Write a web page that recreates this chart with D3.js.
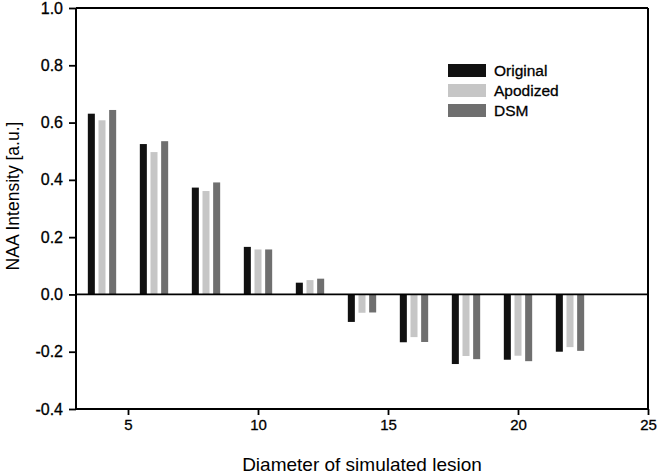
<!DOCTYPE html>
<html>
<head>
<meta charset="utf-8">
<script src="https://cdn.jsdelivr.net/npm/d3@7/dist/d3.min.js"></script>
<style>
  html, body { margin: 0; padding: 0; background: #fff; }
  svg { display: block; font-family: "Liberation Sans", Arial, sans-serif; }
  text { fill: #000; }
  .heavy { stroke: #000; stroke-width: 0.3px; }
</style>
</head>
<body>
<svg id="chart" width="659" height="476"></svg>
<script>
const diameters = [4, 6, 8, 10, 12, 14, 16, 18, 20, 22];
const seriesNames = ["Original", "Apodized", "DSM"];
const original = [0.631, 0.525, 0.373, 0.166, 0.041, -0.096, -0.167, -0.243, -0.228, -0.200];
const apodized = [0.608, 0.497, 0.361, 0.157, 0.050, -0.064, -0.149, -0.215, -0.214, -0.184];
const dsm      = [0.644, 0.535, 0.391, 0.157, 0.055, -0.063, -0.166, -0.226, -0.233, -0.197];
const xTicks = [5, 10, 15, 20, 25];
const yTicks = [-0.4, -0.2, 0.0, 0.2, 0.4, 0.6, 0.8, 1.0];
const colors = ["#111111", "#c6c6c6", "#6f6f6f"];

const svg = d3.select("#chart");
const mLeft = 76, mRight = 648, mTop = 8, mBottom = 409;

const x = d3.scaleLinear().domain([3, 25]).range([mLeft, mRight]);
const y = d3.scaleLinear().domain([-0.4, 1.0]).range([mBottom, mTop]);

const series = [original, apodized, dsm];
const offsets = [-0.41, 0, 0.41];
const barW = x(3.27) - x(3);

// bars
series.forEach((vals, si) => {
  svg.append("g").selectAll("rect")
    .data(vals.map((v, i) => ({ d: diameters[i], v })))
    .join("rect")
    .attr("x", p => x(p.d + offsets[si]) - barW / 2)
    .attr("width", barW)
    .attr("y", p => y(Math.max(0, p.v)))
    .attr("height", p => Math.abs(y(p.v) - y(0)))
    .attr("fill", colors[si]);
});

// zero line
svg.append("line")
  .attr("x1", mLeft).attr("x2", mRight)
  .attr("y1", y(0)).attr("y2", y(0))
  .attr("stroke", "#000").attr("stroke-width", 1.8);

// axes
const fmtY = v => d3.format(".1f")(v).replace("\u2212", "-");
const yAxis = svg.append("g")
  .attr("transform", `translate(${mLeft},0)`)
  .call(d3.axisLeft(y).tickValues(yTicks).tickFormat(fmtY).tickSize(7).tickPadding(6));
const xAxis = svg.append("g")
  .attr("transform", `translate(0,${mBottom})`)
  .call(d3.axisBottom(x).tickValues(xTicks).tickFormat(d3.format("d")).tickSize(6).tickPadding(4));

[yAxis, xAxis].forEach(g => {
  g.select(".domain").attr("stroke", "#000").attr("stroke-width", 2);
  g.selectAll(".tick line").attr("stroke", "#000").attr("stroke-width", 1.8);
  g.selectAll(".tick text").attr("fill", "#000").attr("class", "heavy")
    .style("font-family", "Liberation Sans, Arial, sans-serif");
});
yAxis.selectAll(".tick text").style("font-size", "16px");
xAxis.selectAll(".tick text").style("font-size", "15px");
yAxis.select(".domain").attr("d", `M0,${mTop}V${mBottom}`);
xAxis.select(".domain").attr("d", `M${mLeft},0H${mRight}`);

// frame top and right
svg.append("line").attr("x1", mLeft).attr("x2", mRight).attr("y1", mTop).attr("y2", mTop)
  .attr("stroke", "#000").attr("stroke-width", 2);
svg.append("line").attr("x1", mRight).attr("x2", mRight).attr("y1", mTop).attr("y2", mBottom)
  .attr("stroke", "#000").attr("stroke-width", 2);

// titles
svg.append("text")
  .attr("x", (mLeft + mRight) / 2).attr("y", 471)
  .attr("text-anchor", "middle")
  .style("font-size", "19px")
  .text("Diameter of simulated lesion");
svg.append("text")
  .attr("transform", `translate(19,196) rotate(-90)`)
  .attr("text-anchor", "middle")
  .style("font-size", "17.5px")
  .text("NAA Intensity [a.u.]");

// legend
const legend = svg.append("g");
seriesNames.forEach((name, i) => {
  const by = 76 + i * 20;
  legend.append("rect").attr("x", 448).attr("y", by - 12).attr("width", 38).attr("height", 13)
    .attr("fill", colors[i]);
  legend.append("text").attr("x", 494).attr("y", by).attr("class", "heavy")
    .style("font-size", "15.5px").text(name);
});
</script>
</body>
</html>
